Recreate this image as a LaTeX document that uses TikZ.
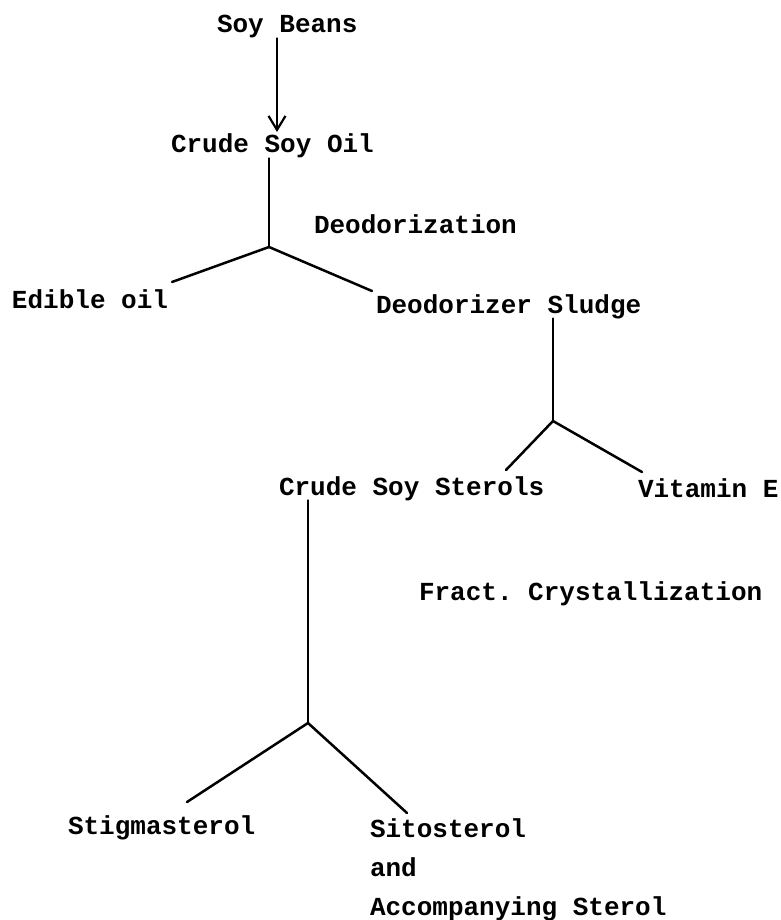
\documentclass[tikz,border=0pt]{standalone}
\usepackage{fontspec}
\setmonofont{Liberation Mono}
\usetikzlibrary{arrows.meta}
\tikzset{
  lbl/.style={inner sep=0pt, outer sep=0pt, anchor=base west,
    font=\ttfamily\bfseries\fontsize{26}{39}\selectfont},
  conn/.style={line width=2.5pt, line cap=round, line join=round},
  arr/.style={conn, -{Straight Barb[length=14pt,width=17pt,line width=2.2pt]}}
}
\begin{document}
\begin{tikzpicture}[x=1pt,y=-1pt]
\useasboundingbox[fill=white] (0,0) rectangle (780,920);
% texts
\node[lbl] (beans)  at (217,33)  {Soy Beans};
\node[lbl] (oil)    at (171,153) {Crude Soy Oil};
\node[lbl] (deod)   at (314,233) {Deodorization};
\node[lbl] (edible) at (12,308)  {Edible oil};
\node[lbl] (sludge) at (376,313) {Deodorizer Sludge};
\node[lbl] (css)    at (279,495) {Crude Soy Sterols};
\node[lbl] (vite)   at (638,497) {Vitamin E};
\node[lbl] (fract)  at (419,600) {Fract. Crystallization};
\node[lbl] (stig)   at (68,834)  {Stigmasterol};
\node[lbl] (sito)   at (370,837) {Sitosterol};
\node[lbl] (and)    at (370,876) {and};
\node[lbl] (acc)    at (370,915) {Accompanying Sterol};
% junctions and free ends
\coordinate (tip)  at (277,132);
\coordinate (j1)   at (269,247);
\coordinate (e1l)  at (172,282);
\coordinate (e1r)  at (372,291);
\coordinate (j2)   at (553,421);
\coordinate (e2l)  at (506,470);
\coordinate (e2r)  at (642,472);
\coordinate (j3)   at (308,723);
\coordinate (e3l)  at (187,802);
\coordinate (e3r)  at (407,813);
% connectors
\draw[arr]  (beans.south -| tip) -- (tip);
\draw[conn] (oil.south -| j1) -- (j1);
\draw[conn] (j1) -- (e1l);
\draw[conn] (j1) -- (e1r);
\draw[conn] (sludge.south -| j2) -- (j2);
\draw[conn] (j2) -- (e2l);
\draw[conn] (j2) -- (e2r);
\draw[conn] (css.south -| j3) -- (j3);
\draw[conn] (j3) -- (e3l);
\draw[conn] (j3) -- (e3r);
\end{tikzpicture}
\end{document}
